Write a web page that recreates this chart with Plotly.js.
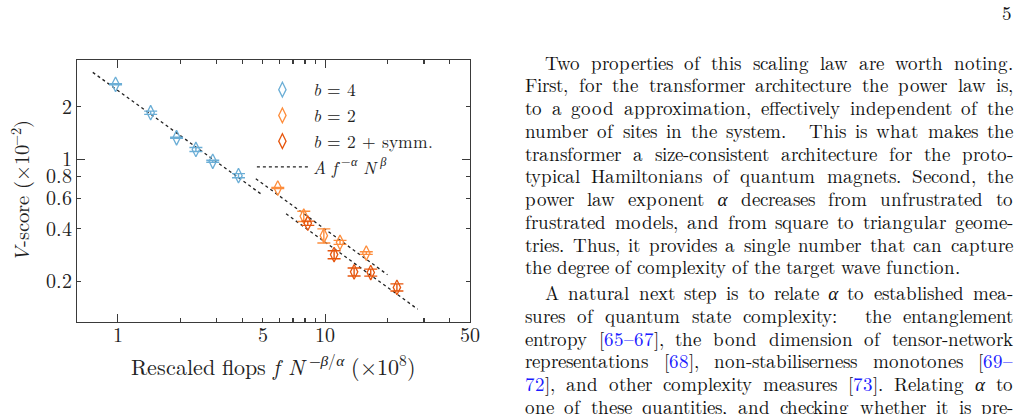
<!DOCTYPE html>
<html>
<head>
<meta charset="utf-8">
<script src="https://cdn.plot.ly/plotly-3.0.1.min.js"></script>
<style>
  @font-face {
    font-family: 'LMTight';
    src: local('LMRoman10-Regular'), local('LM Roman 10 Regular'), local('LM Roman 10'), local('Latin Modern Roman');
    font-style: normal; font-weight: 400;
    ascent-override: 74%; descent-override: 14%; line-gap-override: 0%;
  }
  @font-face {
    font-family: 'LMTight';
    src: local('LMRoman10-Italic'), local('LM Roman 10 Italic'), local('Latin Modern Roman Italic');
    font-style: italic; font-weight: 400;
    ascent-override: 74%; descent-override: 14%; line-gap-override: 0%;
  }
  html, body { margin:0; padding:0; background:#fff; width:1021px; height:414px; overflow:hidden; }
  #chart { position:absolute; left:0; top:0; width:1021px; height:414px; }
  .ln { position:absolute; left:525px; width:488px; font-family:'LMTight', 'Latin Modern Roman', 'Liberation Serif', serif; font-size:19px; line-height:22.75px; color:#111; white-space:nowrap; text-align:justify; text-align-last:justify; }
  .ind { padding-left:20px; width:468px; }
  .last { text-align:left; text-align-last:left; }
  .ref { color:#1a1aff; }
  #pg { position:absolute; right:9px; top:4px; line-height:22px; font-family:'LMTight', 'Latin Modern Roman', 'Liberation Serif', serif; font-size:19px; color:#111; }
</style>
</head>
<body>
<div id="chart"></div>
<div id="pg">5</div>
<div id="txt"></div>
<script>
// ---------------- data (V-score in units of 1e-2, flops in units of 1e8) ----------------
const b4_x   = [0.975, 1.44, 1.92, 2.38, 2.87, 3.82];
const b4_y   = [2.69, 1.85, 1.33, 1.14, 0.975, 0.807];
const b4_err = [0.02, 0.04, 0.01, 0.03, 0.013, 0.022];

const b2_x   = [5.91, 7.89, 9.86, 11.8, 15.8];
const b2_y   = [0.685, 0.473, 0.366, 0.335, 0.291];
const b2_err = [0.005, 0.032, 0.034, 0.009, 0.005];

const b2s_x   = [8.25, 11.05, 13.8, 16.6, 22.2];
const b2s_y   = [0.431, 0.285, 0.227, 0.225, 0.185];
const b2s_err = [0.012, 0.015, 0.012, 0.0105, 0.0087];

// fitted power-law segments A f^-alpha N^beta (endpoints)
const fit_b4_x  = [0.757, 4.94];
const fit_b4_y  = [3.15, 0.630];
const fit_b2_x  = [4.63, 20.0];
const fit_b2_y  = [0.775, 0.2185];
const fit_b2s_x = [6.48, 27.95];
const fit_b2s_y = [0.488, 0.1388];

const xTickVals  = [1, 5, 10, 50];
const xTickText  = ['1', '5', '10', '50'];
const xMinorVals = [2, 3, 4, 6, 7, 8, 9, 20, 30, 40];
const yTickVals  = [0.2, 0.4, 0.6, 0.8, 1, 2];
const yTickText  = ['0.2', '0.4', '0.6', '0.8', '1', '2'];
const majorX = [1, 10];
const majorY = [1];

const names = ['<i>b</i> = 4', '<i>b</i> = 2', '<i>b</i> = 2 + symm.'];
const fitName = '<i>A f</i><sup> −<i>α</i></sup> <i>N</i><sup> <i>β</i></sup>';
const colors = ['#6baed6', '#fd8d3c', '#e6550d'];

// ---------------- paper text ----------------
const para1 = [
  'Two properties of this scaling law are worth noting.',
  'First, for the transformer architecture the power law is,',
  'to a good approximation, effectively independent of the',
  'number of sites in the system.&nbsp; This is what makes the',
  'transformer a size-consistent architecture for the proto-',
  'typical Hamiltonians of quantum magnets. Second, the',
  'power law exponent <i>α</i> decreases from unfrustrated to',
  'frustrated models, and from square to triangular geome-',
  'tries. Thus, it provides a single number that can capture',
  'the degree of complexity of the target wave function.'
];
const para2 = [
  'A natural next step is to relate <i>α</i> to established mea-',
  'sures of quantum state complexity:&nbsp; the entanglement',
  'entropy [<span class="ref">65–67</span>], the bond dimension of tensor-network',
  'representations [<span class="ref">68</span>], non-stabiliserness monotones [<span class="ref">69–</span>',
  '<span class="ref">72</span>], and other complexity measures [<span class="ref">73</span>]. Relating <i>α</i> to',
  'one of these quantities, and checking whether it is pre-'
];
(function () {
  const box = document.getElementById('txt');
  let html = '';
  const top0 = 53.5, lh = 22.75;
  para1.forEach((t, i) => {
    let cls = 'ln';
    if (i === 0) cls += ' ind';
    if (i === para1.length - 1) cls += ' last';
    html += `<div class="${cls}" style="top:${(top0 + i * lh).toFixed(1)}px">${t}</div>`;
  });
  para2.forEach((t, i) => {
    const cls = i === 0 ? 'ln ind' : 'ln';
    html += `<div class="${cls}" style="top:${(top0 + (para1.length + i) * lh + 3).toFixed(1)}px">${t}</div>`;
  });
  box.innerHTML = html;
})();

// ---------------- chart ----------------
const axisColor = '#3a3a3a';
const FAM = 'LMTight, Latin Modern Roman, Liberation Serif, serif';

function pts(x, y, e, i) {
  return {
    type: 'scatter', mode: 'markers', x: x, y: y, name: names[i],
    marker: { symbol: 'diamond-tall-open', size: 10.5, color: colors[i], line: { width: 1.3, color: colors[i] } },
    error_y: { type: 'data', array: e, visible: true, color: colors[i], thickness: 1.4, width: 6.5 },
    legendrank: i + 1
  };
}
function fit(x, y, show) {
  return {
    type: 'scatter', mode: 'lines', x: x, y: y, name: fitName, showlegend: show,
    line: { color: '#222', width: 1.3, dash: 'dot' }, hoverinfo: 'skip', legendrank: 10
  };
}

const data = [
  fit(fit_b4_x, fit_b4_y, true),
  fit(fit_b2_x, fit_b2_y, false),
  fit(fit_b2s_x, fit_b2s_y, false),
  pts(b4_x, b4_y, b4_err, 0),
  pts(b2_x, b2_y, b2_err, 1),
  pts(b2s_x, b2s_y, b2s_err, 2),
  { type: 'scatter', x: [], y: [], xaxis: 'x2', yaxis: 'y2', showlegend: false, hoverinfo: 'skip' }
];

const xr = [-0.197, Math.log10(50)];
const yr = [-0.931, 0.569];

const layout = {
  width: 1021, height: 414,
  margin: { l: 77, r: 551, t: 60, b: 92, pad: 0 },
  paper_bgcolor: 'rgba(0,0,0,0)', plot_bgcolor: 'rgba(0,0,0,0)',
  font: { family: FAM, size: 20, color: '#222' },
  showlegend: true,
  legend: {
    x: 0.445, y: 0.955, xanchor: 'left', yanchor: 'top',
    bgcolor: 'rgba(0,0,0,0)', borderwidth: 0,
    font: { family: FAM, size: 17.5, color: '#222' },
    itemwidth: 51, tracegroupgap: 0, traceorder: 'normal'
  },
  xaxis: {
    type: 'log', range: xr, showgrid: false, zeroline: false,
    showline: true, linecolor: axisColor, linewidth: 1.3, mirror: 'allticks',
    ticks: 'inside', ticklen: 4, tickwidth: 1.1, tickcolor: axisColor,
    tickmode: 'array', tickvals: xTickVals, ticktext: xTickText,
    ticklabelstandoff: -5,
    minor: { tickmode: 'array', tickvals: xMinorVals, ticks: 'inside', ticklen: 4, tickwidth: 1.1, tickcolor: axisColor, showgrid: false },
    tickfont: { family: FAM, size: 20 },
    title: { text: 'Rescaled flops <i>f N</i><sup> −<i>β</i>/<i>α</i></sup> (×10<sup>8</sup>)', font: { family: FAM, size: 22 }, standoff: 15 }
  },
  yaxis: {
    type: 'log', range: yr, showgrid: false, zeroline: false,
    showline: true, linecolor: axisColor, linewidth: 1.3, mirror: 'allticks',
    ticks: 'inside', ticklen: 4, tickwidth: 1.1, tickcolor: axisColor,
    tickmode: 'array', tickvals: yTickVals, ticktext: yTickText,
    tickfont: { family: FAM, size: 20 },
    title: { text: '<i>V</i>-score (×10<sup>−2</sup>)', font: { family: FAM, size: 20.5 }, standoff: 10 }
  },
  xaxis2: {
    type: 'log', range: xr, overlaying: 'x', anchor: 'y2', side: 'bottom',
    showgrid: false, zeroline: false, showline: false, mirror: 'ticks',
    ticks: 'inside', ticklen: 8, tickwidth: 1.1, tickcolor: axisColor,
    tickmode: 'array', tickvals: majorX, showticklabels: false
  },
  yaxis2: {
    type: 'log', range: yr, overlaying: 'y', anchor: 'x2', side: 'left',
    showgrid: false, zeroline: false, showline: false, mirror: 'ticks',
    ticks: 'inside', ticklen: 8, tickwidth: 1.1, tickcolor: axisColor,
    tickmode: 'array', tickvals: majorY, showticklabels: false
  }
};

document.fonts.ready.then(function () {
  Plotly.newPlot('chart', data, layout, { staticPlot: true, displayModeBar: false });
});
</script>
</body>
</html>
